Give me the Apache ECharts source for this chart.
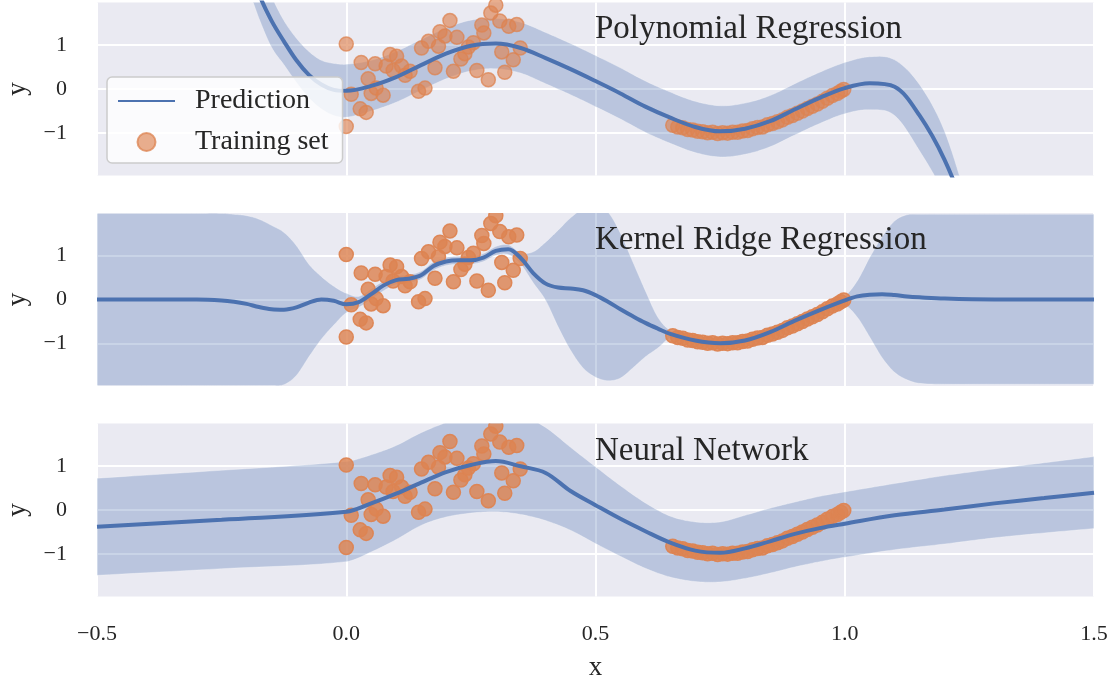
<!DOCTYPE html>
<html><head><meta charset="utf-8">
<script src="https://cdn.jsdelivr.net/npm/echarts@6/dist/echarts.min.js"></script>
<style>html,body{margin:0;padding:0;background:#fff}#c{width:1114px;height:682px}</style>
</head><body><div id="c"></div>
<script>
// ---------- data ----------
const xTickValues = [-0.5, 0, 0.5, 1.0, 1.5];
const yTickValues = [-1, 0, 1];
const panelTitles = ['Polynomial Regression', 'Kernel Ridge Regression', 'Neural Network'];
const legendNames = ['Prediction', 'Training set'];

const trainX = [0.000, 0.000, 0.010, 0.028, 0.030, 0.040, 0.044, 0.050, 0.058, 0.060, 0.074, 0.080, 0.088, 0.094, 0.101, 0.111, 0.118, 0.128, 0.145, 0.151, 0.158, 0.165, 0.178, 0.185, 0.188, 0.198, 0.208, 0.215, 0.222, 0.230, 0.238, 0.245, 0.255, 0.262, 0.272, 0.276, 0.285, 0.290, 0.300, 0.308, 0.312, 0.318, 0.326, 0.335, 0.342, 0.349,
  0.655, 0.665, 0.675, 0.685, 0.695, 0.705, 0.715, 0.725, 0.735, 0.745, 0.755, 0.765, 0.775, 0.785, 0.795, 0.805, 0.815, 0.825, 0.835, 0.845, 0.855, 0.865, 0.875, 0.885, 0.895, 0.905, 0.915, 0.925, 0.935, 0.945, 0.955, 0.965, 0.975, 0.985, 0.992, 0.998];
const trainY = [1.02, -0.85, -0.12, -0.45, 0.60, -0.53, 0.23, -0.10, 0.57, 0.02, -0.14, 0.52, 0.78, 0.42, 0.74, 0.52, 0.31, 0.40, -0.05, 0.93, 0.02, 1.08, 0.48, 0.97, 1.30, 1.20, 1.55, 0.40, 1.17, 0.68, 0.80, 0.95, 1.05, 0.42, 1.45, 1.27, 0.21, 1.72, 1.90, 1.54, 0.84, 0.38, 1.42, 0.66, 1.46, 0.93,
  -0.82, -0.86, -0.88, -0.92, -0.93, -0.96, -0.97, -0.99, -0.98, -1.01, -0.99, -1.00, -0.98, -0.98, -0.95, -0.94, -0.90, -0.87, -0.86, -0.81, -0.78, -0.74, -0.70, -0.64, -0.60, -0.55, -0.50, -0.44, -0.39, -0.34, -0.28, -0.21, -0.15, -0.10, -0.05, -0.01];

// Polynomial regression
const polyX = [-0.2, -0.175, -0.15, -0.125, -0.1, -0.075, -0.05, -0.025, 0, 0.05, 0.1, 0.15, 0.2, 0.25, 0.3, 0.35, 0.4, 0.45, 0.5, 0.55, 0.6, 0.65, 0.7, 0.75, 0.8, 0.85, 0.9, 0.95, 1.0, 1.05, 1.1, 1.15, 1.2, 1.25];
const polyY = [3.0, 2.15, 1.55, 1.08, 0.65, 0.32, 0.10, -0.02, -0.04, 0.07, 0.27, 0.54, 0.80, 0.98, 1.03, 0.93, 0.70, 0.45, 0.18, -0.10, -0.40, -0.65, -0.86, -0.96, -0.90, -0.73, -0.46, -0.20, 0.02, 0.13, 0.05, -0.60, -1.60, -3.0];
const polyUpper = [3.6, 2.75, 2.1, 1.55, 1.15, 0.85, 0.65, 0.58, 0.56, 0.65, 0.85, 1.12, 1.38, 1.56, 1.60, 1.51, 1.28, 1.03, 0.76, 0.48, 0.18, -0.07, -0.28, -0.38, -0.32, -0.15, 0.12, 0.38, 0.60, 0.73, 0.66, 0.10, -0.95, -2.7];
const polyLower = [2.4, 1.6, 0.95, 0.55, 0.15, -0.20, -0.45, -0.60, -0.64, -0.50, -0.30, -0.03, 0.23, 0.41, 0.46, 0.36, 0.12, -0.13, -0.40, -0.68, -0.98, -1.23, -1.44, -1.54, -1.48, -1.31, -1.04, -0.78, -0.56, -0.47, -0.60, -1.40, -2.4, -3.8];

// Kernel ridge regression
const krrX = [-0.5, -0.4, -0.3, -0.25, -0.225, -0.2, -0.175, -0.15, -0.125, -0.1, -0.075, -0.05, -0.025, 0, 0.025, 0.05, 0.075, 0.1, 0.125, 0.15, 0.175, 0.2, 0.225, 0.25, 0.275, 0.3, 0.325, 0.35, 0.375, 0.4, 0.425, 0.45, 0.475, 0.5, 0.525, 0.55, 0.575, 0.6, 0.625, 0.65, 0.7, 0.75, 0.8, 0.85, 0.9, 0.95, 1.0, 1.025, 1.05, 1.075, 1.1, 1.125, 1.15, 1.2, 1.3, 1.4, 1.5];
const krrY = [0, 0, 0, -0.02, -0.05, -0.10, -0.17, -0.22, -0.23, -0.18, -0.07, 0.0, -0.03, -0.11, -0.06, 0.12, 0.32, 0.44, 0.47, 0.55, 0.76, 0.86, 0.89, 0.89, 0.95, 1.10, 1.14, 0.94, 0.60, 0.36, 0.27, 0.25, 0.21, 0.10, -0.05, -0.22, -0.38, -0.53, -0.66, -0.78, -0.93, -0.99, -0.93, -0.74, -0.48, -0.24, -0.02, 0.07, 0.11, 0.12, 0.10, 0.07, 0.05, 0.02, 0, 0, 0];
const krrUpper = [1.95, 1.95, 1.95, 1.95, 1.93, 1.90, 1.82, 1.68, 1.52, 1.22, 0.80, 0.52, 0.30, 0.14, 0.07, 0.24, 0.42, 0.53, 0.56, 0.64, 0.85, 0.95, 0.98, 0.98, 1.04, 1.20, 1.24, 1.06, 1.08, 1.30, 1.57, 1.85, 2.05, 2.10, 1.98, 1.50, 0.85, 0.20, -0.40, -0.70, -0.87, -0.93, -0.87, -0.68, -0.42, -0.18, 0.08, 0.42, 0.95, 1.42, 1.78, 1.92, 1.93, 1.93, 1.93, 1.93, 1.93];
const krrLower = [-1.95, -1.95, -1.95, -1.95, -1.95, -1.95, -1.95, -1.95, -1.93, -1.72, -1.30, -0.90, -0.58, -0.30, -0.18, 0.0, 0.20, 0.34, 0.38, 0.46, 0.66, 0.77, 0.80, 0.80, 0.86, 1.00, 1.02, 0.80, 0.38, -0.02, -0.62, -1.15, -1.55, -1.76, -1.84, -1.78, -1.55, -1.30, -1.10, -0.88, -0.99, -1.05, -0.99, -0.80, -0.54, -0.30, -0.14, -0.40, -0.85, -1.32, -1.65, -1.82, -1.90, -1.92, -1.92, -1.92, -1.92];

// Neural network
const nnX = [-0.5, -0.25, 0, 0.05, 0.1, 0.15, 0.2, 0.25, 0.3, 0.35, 0.4, 0.45, 0.5, 0.55, 0.6, 0.65, 0.7, 0.75, 0.8, 0.85, 0.9, 0.95, 1.0, 1.1, 1.2, 1.3, 1.4, 1.5];
const nnY = [-0.38, -0.22, -0.04, 0.15, 0.37, 0.62, 0.86, 1.02, 1.11, 0.99, 0.84, 0.43, 0.11, -0.20, -0.48, -0.74, -0.92, -0.97, -0.87, -0.71, -0.54, -0.41, -0.31, -0.12, 0.01, 0.15, 0.27, 0.39];
const nnUpper = [0.72, 0.90, 1.10, 1.25, 1.46, 1.75, 1.98, 2.15, 2.25, 2.15, 1.87, 1.42, 0.98, 0.55, 0.16, -0.14, -0.27, -0.27, -0.12, 0.04, 0.18, 0.31, 0.41, 0.60, 0.78, 0.93, 1.07, 1.21];
const nnLower = [-1.48, -1.33, -1.17, -0.95, -0.67, -0.35, -0.16, -0.07, -0.04, -0.10, -0.24, -0.46, -0.76, -1.05, -1.32, -1.52, -1.62, -1.63, -1.55, -1.43, -1.29, -1.17, -1.07, -0.90, -0.77, -0.63, -0.52, -0.42];

// ---------- chart ----------
const FONT = '"Liberation Serif", "Times New Roman", serif';
const INK = '#262626';
const BLUE = '#4C72B0';
const BAND = 'rgba(76,114,176,0.3)';
const DOT_FILL = 'rgba(221,132,82,0.82)';
const DOT_EDGE = 'rgba(221,132,82,0.95)';
const fmt = (v, d) => (v < 0 ? '\u2212' : '') + Math.abs(v).toFixed(d);

const panels = [
  {x: polyX, y: polyY, lo: polyLower, hi: polyUpper},
  {x: krrX, y: krrY, lo: krrLower, hi: krrUpper},
  {x: nnX, y: nnY, lo: nnLower, hi: nnUpper}
];
const gridTops = [2.5, 213, 423.5];
const titleTops = [13, 224, 435];

// smooth an edge given in pixel space (x increasing) with cubic Hermite segments
function smoothEdge(pts) {
  const n = pts.length, m = [];
  for (let k = 0; k < n; k++) {
    const a = pts[Math.max(k - 1, 0)], b = pts[Math.min(k + 1, n - 1)];
    m.push((b[1] - a[1]) / (b[0] - a[0]));
  }
  const out = [];
  for (let k = 0; k < n - 1; k++) {
    const p = pts[k], q = pts[k + 1], h = q[0] - p[0];
    const S = 10;
    for (let s = 0; s < S; s++) {
      const t = s / S, t2 = t * t, t3 = t2 * t;
      const y = (2 * t3 - 3 * t2 + 1) * p[1] + (t3 - 2 * t2 + t) * h * m[k] + (-2 * t3 + 3 * t2) * q[1] + (t3 - t2) * h * m[k + 1];
      out.push([p[0] + t * h, y]);
    }
  }
  out.push(pts[n - 1]);
  return out;
}

const grids = gridTops.map(t => ({left: 97, right: 20, top: t, height: 173, show: true, backgroundColor: '#EAEAF2', borderWidth: 0, containLabel: false, outerBoundsMode: 'none'}));
const xAxes = panels.map((p, i) => ({
  type: 'value', gridIndex: i, min: -0.5, max: 1.5, interval: 0.5,
  axisLine: {show: false}, axisTick: {show: false},
  axisLabel: {show: i === 2, margin: 27, fontFamily: FONT, fontSize: 22, color: INK, formatter: v => fmt(v, 1)},
  splitLine: {show: true, lineStyle: {color: '#ffffff', width: 2}},
  name: i === 2 ? 'x' : '', nameLocation: 'middle', nameGap: 58,
  nameTextStyle: {fontFamily: FONT, fontSize: 27, color: INK}
}));
const yAxes = panels.map((p, i) => ({
  type: 'value', gridIndex: i, min: -1.96, max: 1.96,
  axisLine: {show: false}, axisTick: {show: false, customValues: yTickValues},
  axisLabel: {customValues: yTickValues, margin: 30, fontFamily: FONT, fontSize: 22, color: INK, formatter: v => fmt(v, 0)},
  splitLine: {show: true, lineStyle: {color: '#ffffff', width: 2}},
  name: 'y', nameLocation: 'middle', nameGap: 66,
  nameTextStyle: {fontFamily: FONT, fontSize: 27, color: INK}
}));

const trainData = trainX.map((x, k) => [x, trainY[k]]);
const series = [];
panels.forEach((p, i) => {
  series.push({
    type: 'custom', name: 'band-' + i, xAxisIndex: i, yAxisIndex: i, clip: true, silent: true, z: 1,
    data: [[p.x[0], p.y[0]]],
    renderItem: (params, api) => {
      const up = smoothEdge(p.x.map((x, k) => api.coord([x, p.hi[k]])));
      const lo = smoothEdge(p.x.map((x, k) => api.coord([x, p.lo[k]])));
      return {type: 'polygon', shape: {points: up.concat(lo.reverse())},
        style: {fill: BAND, stroke: 'rgba(255,255,255,0.3)', lineWidth: 1}};
    }
  });
  if (i === 0) {
    series.push({
      type: 'scatter', name: legendNames[1], xAxisIndex: i, yAxisIndex: i,
      data: trainData, symbol: 'circle', symbolSize: 14,
      itemStyle: {color: DOT_FILL, borderColor: DOT_EDGE, borderWidth: 1.5}, z: 2
    });
  } else {
    // same training points, drawn as circles clipped at the panel edge
    series.push({
      type: 'custom', name: 'train-' + i, xAxisIndex: i, yAxisIndex: i, clip: true, silent: true, z: 2,
      data: trainData,
      renderItem: (params, api) => {
        const c = api.coord([api.value(0), api.value(1)]);
        return {type: 'circle', shape: {cx: c[0], cy: c[1], r: 7},
          style: {fill: DOT_FILL, stroke: DOT_EDGE, lineWidth: 1.5}};
      }
    });
  }
  series.push({
    type: 'line', name: legendNames[0], xAxisIndex: i, yAxisIndex: i,
    data: p.x.map((x, k) => [x, p.y[k]]),
    symbol: 'none', smooth: 0.35, lineStyle: {color: BLUE, width: 4}, itemStyle: {color: BLUE}, z: 3
  });
});

const chart = echarts.init(document.getElementById('c'));
chart.setOption({
  animation: false,
  backgroundColor: '#ffffff',
  grid: grids, xAxis: xAxes, yAxis: yAxes, series: series,
  legend: {
    data: [{name: legendNames[0], itemStyle: {opacity: 0}}, {name: legendNames[1]}],
    orient: 'vertical', left: 107, top: 77,
    padding: [9, 14, 6, 10], itemWidth: 57, itemHeight: 18, itemGap: 11,
    backgroundColor: 'rgba(255,255,255,0.8)', borderColor: '#cccccc', borderWidth: 1.5, borderRadius: 5,
    selectedMode: false,
    textStyle: {fontFamily: FONT, fontSize: 28, lineHeight: 30, color: INK, padding: [0, 0, 0, 15]}
  },
  graphic: panelTitles.map((t, i) => ({
    type: 'text', left: 595, top: titleTops[i], z: 20,
    style: {text: t, font: '33px "Liberation Serif"', fill: INK}
  }))
});
</script>
</body></html>
